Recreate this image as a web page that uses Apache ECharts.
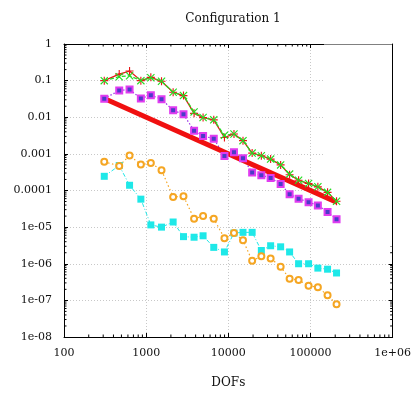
<!DOCTYPE html>
<html>
<head>
<meta charset="utf-8">
<script src="https://cdn.jsdelivr.net/npm/echarts@6/dist/echarts.min.js"></script>
<style>
  html, body { margin: 0; padding: 0; background: #fff; }
  #chart { width: 414px; height: 394px; }
</style>
</head>
<body>
<div id="chart"></div>
<script>
// DOFs (x)
var dofs = [309, 470, 628, 862, 1140, 1538, 2130, 2846, 3830, 4930, 6650, 8970,
            11720, 15090, 19500, 25230, 32730, 43330, 55720, 71660, 94800, 123000, 161400, 207600];
// series values
var redErr = [0.1, 0.151, 0.183, 0.1, 0.123, 0.096, 0.048, 0.039, 0.0128, 0.0098, 0.0085, 0.0028,
              0.0035, 0.0023, 0.00105, 0.00089, 0.00072, 0.0005, 0.00027, 0.00019, 0.000155, 0.000126, 0.000089, 0.000051];
var greenErr = [0.1, 0.128, 0.136, 0.1, 0.12, 0.096, 0.048, 0.039, 0.014, 0.0098, 0.0085, 0.0032,
                0.0035, 0.0023, 0.00105, 0.00089, 0.00072, 0.0005, 0.00028, 0.00019, 0.000155, 0.000126, 0.000089, 0.000051];
var purpleErr = [0.032, 0.054, 0.057, 0.0327, 0.04, 0.031, 0.0155, 0.012, 0.0043, 0.0031, 0.0026, 0.00087,
                 0.0011, 0.00076, 0.00031, 0.00026, 0.00022, 0.00015, 0.000079, 0.00006, 0.000048, 0.000039, 0.000026, 0.0000165];
var orangeErr = [0.00061, 0.00047, 0.0009, 0.00051, 0.00056, 0.00036, 0.000066, 0.00007, 0.000017, 0.00002, 0.000017, 0.000005,
                 0.0000069, 0.0000044, 0.0000012, 0.0000016, 0.0000014, 8.3e-7, 3.9e-7, 3.6e-7, 2.5e-7, 2.3e-7, 1.37e-7, 7.8e-8];
var cyanErr = [0.000244, 0.00048, 0.000139, 0.000058, 0.0000115, 0.00001, 0.0000138, 0.0000055, 0.0000053, 0.0000058, 0.0000028, 0.0000021,
               0.0000069, 0.0000072, 0.0000072, 0.0000023, 0.0000031, 0.0000029, 0.0000021, 1.0e-6, 1.0e-6, 7.6e-7, 7.1e-7, 5.6e-7];
// reference slope line (end points)
var refX = [309, 207600];
var refY = [0.0324, 0.0000482];

var xTickLabels = ['100', '1000', '10000', '100000', '1e+06'];
var yTickLabels = ['1', '0.1', '0.01', '0.001', '0.0001', '1e-05', '1e-06', '1e-07', '1e-08'];

// minor tick positions (2..9 per decade)
var minorX = [], minorY = [];
for (var e = 2; e < 6; e++) for (var m = 2; m < 10; m++) minorX.push(m * Math.pow(10, e));
for (var e2 = -8; e2 < 0; e2++) for (var m2 = 2; m2 < 10; m2++) minorY.push(m2 * Math.pow(10, e2));

function pairs(xs, ys) {
  return xs.map(function (x, i) { return [x, ys[i]]; });
}

var FONT = 'DejaVu Serif';

var chart = echarts.init(document.getElementById('chart'));

function axisBase(extra) {
  return Object.assign({
    type: 'log',
    logBase: 10,
    axisLine: { show: true, onZero: false, lineStyle: { color: '#000', width: 1 } },
    axisTick: { show: true, inside: true, length: 4, lineStyle: { color: '#000' } },
    splitLine: { show: false },
    axisLabel: { show: false }
  }, extra);
}

chart.setOption({
  animation: false,
  backgroundColor: '#fff',
  title: {
    text: 'Configuration 1',
    left: 228,
    top: 8,
    textAlign: 'center',
    textStyle: { fontFamily: FONT, fontSize: 12, fontWeight: 'normal', color: '#111' }
  },
  grid: { left: 64, right: 21, top: 44, bottom: 54, show: false },
  xAxis: [
    axisBase({
      position: 'bottom', min: 100, max: 1000000, splitNumber: 4,
      name: 'DOFs', nameLocation: 'middle', nameGap: 40,
      nameTextStyle: { fontFamily: FONT, fontSize: 12, color: '#111' },
      splitLine: { show: true, lineStyle: { color: '#c8c8c8', type: [1, 2] } },
      axisLabel: {
        show: true, margin: 11, fontFamily: FONT, fontSize: 11, color: '#111',
        formatter: function (v) { return xTickLabels[Math.round(Math.log10(v)) - 2]; }
      }
    }),
    axisBase({ position: 'top', min: 100, max: 1000000, splitNumber: 4 })
  ],
  yAxis: [
    axisBase({
      position: 'left', min: 1e-8, max: 1, splitNumber: 8,
      splitLine: { show: true, lineStyle: { color: '#c8c8c8', type: [1, 2] } },
      axisLabel: {
        show: true, margin: 12, fontFamily: FONT, fontSize: 11, color: '#111',
        formatter: function (v) { return yTickLabels[-Math.round(Math.log10(v))]; }
      }
    }),
    axisBase({ position: 'right', min: 1e-8, max: 1, splitNumber: 8 })
  ],
  graphic: [{
    // empty key area of the original plot hides the grid there
    type: 'rect', z: 1,
    shape: { x: 324, y: 44.5, width: 68, height: 202 },
    style: { fill: '#fff' }
  }],
  series: [
    {
      type: 'custom', z: 0, silent: true, clip: false,
      data: minorX.map(function (v) { return [v, 1]; }),
      renderItem: function (params, api) {
        var p = api.coord([api.value(0), 1]);
        var r = params.coordSys;
        var st = { stroke: '#000', lineWidth: 1 };
        return { type: 'group', children: [
          { type: 'line', shape: { x1: p[0], y1: r.y + r.height, x2: p[0], y2: r.y + r.height - 2.5 }, style: st },
          { type: 'line', shape: { x1: p[0], y1: r.y, x2: p[0], y2: r.y + 2.5 }, style: st }
        ] };
      }
    },
    {
      type: 'custom', z: 0, silent: true, clip: false,
      data: minorY.map(function (v) { return [1000, v]; }),
      renderItem: function (params, api) {
        var p = api.coord([1000, api.value(1)]);
        var r = params.coordSys;
        var st = { stroke: '#000', lineWidth: 1 };
        return { type: 'group', children: [
          { type: 'line', shape: { x1: r.x, y1: p[1], x2: r.x + 2.5, y2: p[1] }, style: st },
          { type: 'line', shape: { x1: r.x + r.width, y1: p[1], x2: r.x + r.width - 2.5, y2: p[1] }, style: st }
        ] };
      }
    },
    {
      name: 'cyan', type: 'line', data: pairs(dofs, cyanErr),
      symbol: 'rect', symbolSize: 7,
      itemStyle: { color: '#1ee8e8' },
      lineStyle: { color: '#1ee8e8', width: 1, type: [4, 2, 1, 2] }
    },
    {
      name: 'orange', type: 'line', data: pairs(dofs, orangeErr),
      symbol: 'emptyCircle', symbolSize: 6,
      itemStyle: { color: '#f5a623', borderWidth: 1.2 },
      lineStyle: { color: '#f5a623', width: 1.2, type: [1.5, 2.5] }
    },
    {
      name: 'purple', type: 'line', data: pairs(dofs, purpleErr),
      symbol: 'rect', symbolSize: 6,
      itemStyle: { color: '#4a3cc8', borderColor: '#e03cf0', borderWidth: 2 },
      lineStyle: { color: '#9a30e8', width: 1.2, type: [1.5, 2] }
    },
    {
      name: 'ref', type: 'line', data: pairs(refX, refY),
      symbol: 'none',
      lineStyle: { color: '#f01010', width: 5 }
    },
    {
      name: 'red', type: 'line', data: pairs(dofs, redErr),
      symbol: 'path://M4.3,0L5.7,0L5.7,4.3L10,4.3L10,5.7L5.7,5.7L5.7,10L4.3,10L4.3,5.7L0,5.7L0,4.3L4.3,4.3Z', symbolSize: 8,
      itemStyle: { color: '#e81818' },
      lineStyle: { color: '#e81818', width: 1.3 }
    },
    {
      name: 'green', type: 'line', data: pairs(dofs, greenErr),
      symbol: 'path://M0,1L1,0L5,4L9,0L10,1L6,5L10,9L9,10L5,6L1,10L0,9L4,5Z', symbolSize: 8,
      itemStyle: { color: '#22dd22' },
      lineStyle: { color: '#22dd22', width: 1.2, type: [4, 2] }
    }
  ]
});
</script>
</body>
</html>
